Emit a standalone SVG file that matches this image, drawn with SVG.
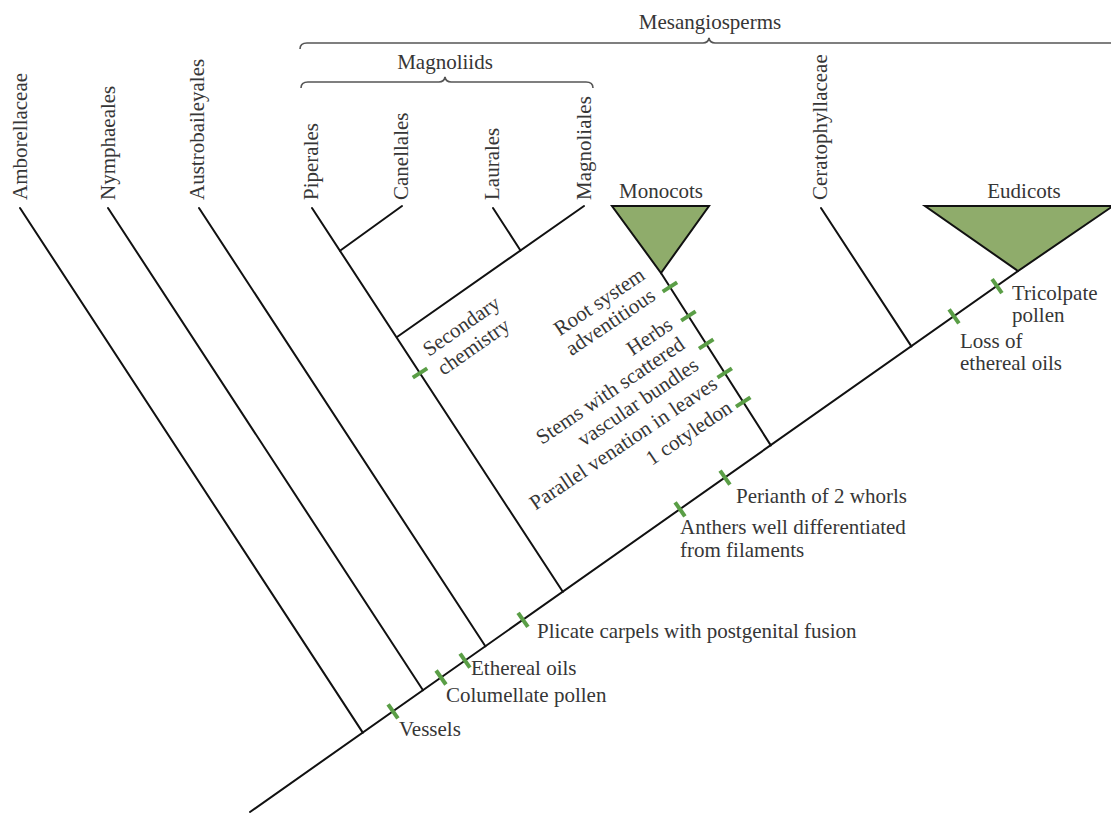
<svg xmlns="http://www.w3.org/2000/svg" width="1111" height="814" viewBox="0 0 1111 814">
<style>
.t{font-family:"Liberation Serif","Times New Roman",serif;font-size:21px;fill:#363636}
.c{text-anchor:middle}
.e{text-anchor:end}
.br{stroke:#111;stroke-width:2;fill:none;stroke-linecap:round}
.tk{stroke:#5a9e46;stroke-width:4;fill:none}
.brace{stroke:#555;stroke-width:1.6;fill:none}
.tri{fill:#8fac6b;stroke:#111;stroke-width:2;stroke-linejoin:miter}
</style>
<rect width="1111" height="814" fill="#fff"/>

<g id="connectors">
<path class="br" d="M250,812 L1018,271"/>
<path class="br" d="M20,208 L362.8,732.6"/>
<path class="br" d="M108,208 L423,690.2"/>
<path class="br" d="M199,208 L485.4,646.3"/>
<path class="br" d="M312,208 L562.8,591.8"/>
<path class="br" d="M402,206 L340,250.8"/>
<path class="br" d="M584,206 L397,337"/>
<path class="br" d="M493,208 L520.5,250.5"/>
<path class="br" d="M661,273 L770.8,445.4"/>
<path class="br" d="M821,208 L911.4,346.4"/>
</g>

<g id="mesangiosperms">
<path class="brace" d="M300,49 Q300,43 307,43 L703,43 Q708,43 709,38 Q710,43 715,43 L1113,43 Q1120,43 1120,49"/>
<text class="t c" x="710" y="29">Mesangiosperms</text>
</g>
<g id="magnoliids">
<path class="brace" d="M301,88 Q301,82 308,82 L439,82 Q444,82 445,77 Q446,82 451,82 L586,82 Q593,82 593,88"/>
<text class="t c" x="445" y="69">Magnoliids</text>
</g>

<g id="amborellaceae"><text class="t" transform="translate(27,200) rotate(-90)">Amborellaceae</text></g>
<g id="nymphaeales"><text class="t" transform="translate(115,200) rotate(-90)">Nymphaeales</text></g>
<g id="austrobaileyales"><text class="t" transform="translate(204,200) rotate(-90)">Austrobaileyales</text></g>
<g id="piperales"><text class="t" transform="translate(318,200) rotate(-90)">Piperales</text></g>
<g id="canellales"><text class="t" transform="translate(408,200) rotate(-90)">Canellales</text></g>
<g id="laurales"><text class="t" transform="translate(499,200) rotate(-90)">Laurales</text></g>
<g id="magnoliales"><text class="t" transform="translate(591,200) rotate(-90)">Magnoliales</text></g>
<g id="ceratophyllaceae"><text class="t" transform="translate(827,200) rotate(-90)">Ceratophyllaceae</text></g>

<g id="monocots">
<polygon class="tri" points="612,206 709,206 661,273"/>
<text class="t c" x="661" y="198">Monocots</text>
</g>
<g id="eudicots">
<polygon class="tri" points="925,206 1113,206 1018,271"/>
<text class="t c" x="1024" y="198">Eudicots</text>
</g>

<g id="secondary-chemistry">
<path class="tk" d="M412.8,377.6 L427.2,368.4"/>
<g transform="translate(429,357) rotate(-35)">
<text class="t" x="0" y="0">Secondary</text>
<text class="t" x="1" y="24">chemistry</text>
</g>
</g>

<g id="monocot-characters">
<path class="tk" d="M662.7,291.6 L677.1,282.4"/>
<path class="tk" d="M681.2,320.6 L695.6,311.4"/>
<path class="tk" d="M699,348.6 L713.4,339.4"/>
<path class="tk" d="M717.5,377.6 L731.9,368.4"/>
<path class="tk" d="M736,406.6 L750.4,397.4"/>
<g transform="translate(661,273) rotate(-34)">
<text class="t e" x="-15" y="-4">Root system</text>
<text class="t e" x="-18" y="19">adventitious</text>
<text class="t e" x="-20" y="53">Herbs</text>
<text class="t e" x="-21" y="76">Stems with scattered</text>
<text class="t e" x="-21" y="101">vascular bundles</text>
<text class="t e" x="-16" y="127">Parallel venation in leaves</text>
<text class="t e" x="-17" y="155">1 cotyledon</text>
</g>
</g>

<g id="vessels">
<path class="tk" d="M388.1,704.3 L397.9,718.3"/>
<text class="t" x="399" y="736">Vessels</text>
</g>
<g id="columellate-pollen">
<path class="tk" d="M436.1,670.5 L445.9,684.5"/>
<text class="t" x="446" y="702">Columellate pollen</text>
</g>
<g id="ethereal-oils">
<path class="tk" d="M460.1,653.6 L469.9,667.6"/>
<text class="t" x="471" y="675">Ethereal oils</text>
</g>
<g id="plicate-carpels">
<path class="tk" d="M518.1,612.8 L527.9,626.8"/>
<text class="t" x="537" y="638">Plicate carpels with postgenital fusion</text>
</g>
<g id="anthers">
<path class="tk" d="M675.1,502.3 L684.9,516.3"/>
<text class="t" x="680" y="534">Anthers well differentiated</text>
<text class="t" x="680" y="557">from filaments</text>
</g>
<g id="perianth">
<path class="tk" d="M720.1,470.6 L729.9,484.6"/>
<text class="t" x="736" y="503">Perianth of 2 whorls</text>
</g>
<g id="loss-ethereal-oils">
<path class="tk" d="M949.1,309.4 L958.9,323.4"/>
<text class="t" x="960" y="348">Loss of</text>
<text class="t" x="960" y="370">ethereal oils</text>
</g>
<g id="tricolpate-pollen">
<path class="tk" d="M992.1,279.1 L1001.9,293.1"/>
<text class="t" x="1012" y="300">Tricolpate</text>
<text class="t" x="1012" y="322">pollen</text>
</g>
</svg>
